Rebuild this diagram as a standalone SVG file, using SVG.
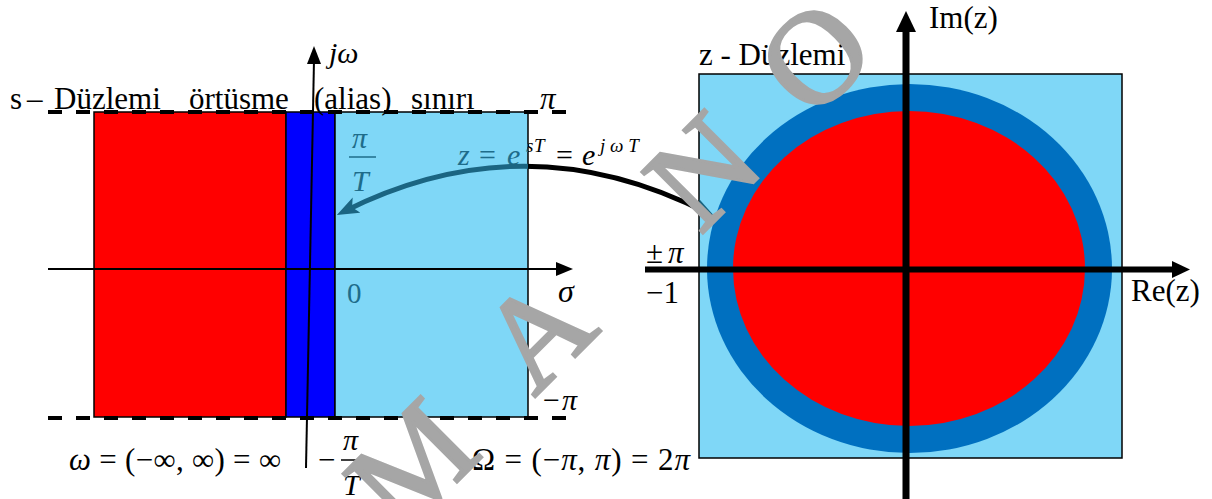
<svg xmlns="http://www.w3.org/2000/svg" width="1212" height="499" viewBox="0 0 1212 499" font-family="'Liberation Serif', 'Times New Roman', serif">
<style>
text{font-family:'Liberation Serif','Times New Roman',serif;fill:#000}
.t31{font-size:31px}
.it{font-style:italic}
.teal{fill:#1E6C8A}
.edge{stroke:#000;stroke-width:1.5}
.dash{stroke:#000;stroke-width:4;stroke-dasharray:14 14;fill:none}
.wm{font-size:132px;fill:#A6A6A6;stroke:#A6A6A6;stroke-width:3;text-anchor:middle}
</style>
<defs>
<clipPath id="inBlue"><rect x="335" y="100" width="193" height="330"/><rect x="699" y="74" width="423" height="384"/></clipPath>
<clipPath id="outBlue"><path clip-rule="evenodd" d="M0,0H1212V499H0Z M335,100H528V430H335Z M699,74H1122V458H699Z"/></clipPath>
<marker id="headT" markerUnits="userSpaceOnUse" markerWidth="24" markerHeight="18" refX="14" refY="8.5" orient="auto-start-reverse"><path d="M0,0 L22,8.5 L0,17 L5,8.5Z" fill="#1B6582"/></marker>
</defs>

<g id="s-plane">
<rect x="94" y="112" width="192" height="305" fill="#FF0000" class="edge"/>
<rect x="286" y="112" width="49" height="305" fill="#0000FF" class="edge"/>
<rect x="335" y="112" width="193" height="305" fill="#7FD7F7" class="edge"/>
<line x1="48" y1="112" x2="566" y2="112" class="dash"/>
<line x1="48" y1="418" x2="566" y2="418" class="dash"/>
<line x1="48" y1="269" x2="558" y2="269" stroke="#000" stroke-width="2"/>
<polygon points="573,269 556,262 556,276" fill="#000"/>
<line x1="314" y1="60" x2="306" y2="468" stroke="#000" stroke-width="2"/>
<polygon points="314,46 307,64 321,64" fill="#000"/>
</g>

<g id="s-labels">
<text class="t31" x="10" y="109">s</text>
<text class="t31" x="27" y="109">–</text>
<text class="t31" x="54" y="109">Düzlemi</text>
<text class="t31" x="189" y="109">örtüsme</text>
<text class="t31" x="314" y="109">(alias)</text>
<text class="t31" x="411" y="109">sınırı</text>
<text class="t31 it" x="540" y="109">π</text>
<text class="it" font-size="30" x="329" y="63">jω</text>
<text class="it teal" font-size="30" x="352" y="148">π</text>
<line x1="349" y1="157" x2="376" y2="157" stroke="#1E6C8A" stroke-width="1.5"/>
<text class="it teal" font-size="30" x="352" y="191">T</text>
<text class="teal" font-size="29" x="347" y="303">0</text>
<text class="it" font-size="32" x="558" y="302">σ</text>
<text font-size="30" x="543" y="410">−<tspan class="it" dx="2">π</tspan></text>
<text class="t31" x="69" y="470" textLength="212" lengthAdjust="spacing"><tspan class="it">ω</tspan> = (−∞, ∞) = ∞</text>
<text class="t31" x="318" y="470">−</text>
<text class="it" font-size="30" x="343" y="450">π</text>
<line x1="341" y1="460" x2="364" y2="460" stroke="#000" stroke-width="1.5"/>
<text class="it" font-size="30" x="343" y="495">T</text>
<text class="t31" x="472" y="470" textLength="218" lengthAdjust="spacing">Ω = (−<tspan class="it">π</tspan>, <tspan class="it">π</tspan>) = 2<tspan class="it">π</tspan></text>
</g>

<g id="z-plane">
<rect x="699" y="74" width="423" height="384" fill="#7FD7F7" class="edge"/>
<ellipse cx="909.5" cy="268.5" rx="202.5" ry="184.5" fill="#0070C0"/>
<ellipse cx="909" cy="268.5" rx="176" ry="157.5" fill="#FF0000"/>
<line x1="906" y1="28" x2="906" y2="499" stroke="#000" stroke-width="7"/>
<polygon points="906,11 896,32 916,32" fill="#000"/>
<line x1="645" y1="269.5" x2="1175" y2="269.5" stroke="#000" stroke-width="6"/>
<polygon points="1190,269.5 1172,261 1172,278" fill="#000"/>
</g>

<g id="z-labels">
<text class="t31" x="699" y="65">z - Düzlemi</text>
<text class="t31" x="929" y="28">Im(z)</text>
<text class="t31" x="646" y="263">±</text>
<text class="t31 it" x="668" y="263">π</text>
<text class="t31" x="646" y="303">−1</text>
<text class="t31" x="1131" y="301">Re(z)</text>
</g>

<g id="mapping">
<g clip-path="url(#outBlue)">
<text class="it" font-size="30" x="458" y="165">z</text>
<text font-size="30" x="479" y="165">=</text>
<text class="it" font-size="30" x="507" y="165">e</text>
<text class="it" font-size="19" x="526" y="152">s</text>
<text class="it" font-size="19" x="534" y="152">T</text>
<text font-size="30" x="556" y="165">=</text>
<text class="it" font-size="30" x="582" y="165">e</text>
<text class="it" font-size="19" x="600" y="152">j ω T</text>
</g>
<g clip-path="url(#inBlue)">
<text class="it teal" font-size="30" x="458" y="165">z</text>
<text class="teal" font-size="30" x="479" y="165">=</text>
<text class="it teal" font-size="30" x="507" y="165">e</text>
<text class="it teal" font-size="19" x="526" y="152">s</text>
<text class="it teal" font-size="19" x="534" y="152">T</text>
</g>
</g>

<g id="connectors">
<g clip-path="url(#outBlue)"><path d="M344,211.4 Q526,120 708,213.3" fill="none" stroke="#000" stroke-width="5"/></g>
<g clip-path="url(#inBlue)"><path d="M344,211.4 Q526,120 708,213.3" fill="none" stroke="#1B6582" stroke-width="5" marker-start="url(#headT)" marker-end="url(#headT)"/></g>
</g>

<g id="watermark">
<text class="wm" transform="translate(443,496) rotate(-45)">M</text>
<text class="wm" transform="translate(568,364) rotate(-45)">A</text>
<text class="wm" transform="translate(734,202) rotate(-45)">N</text>
<text class="wm" transform="translate(846,88) rotate(-45)">O</text>
</g>
</svg>
